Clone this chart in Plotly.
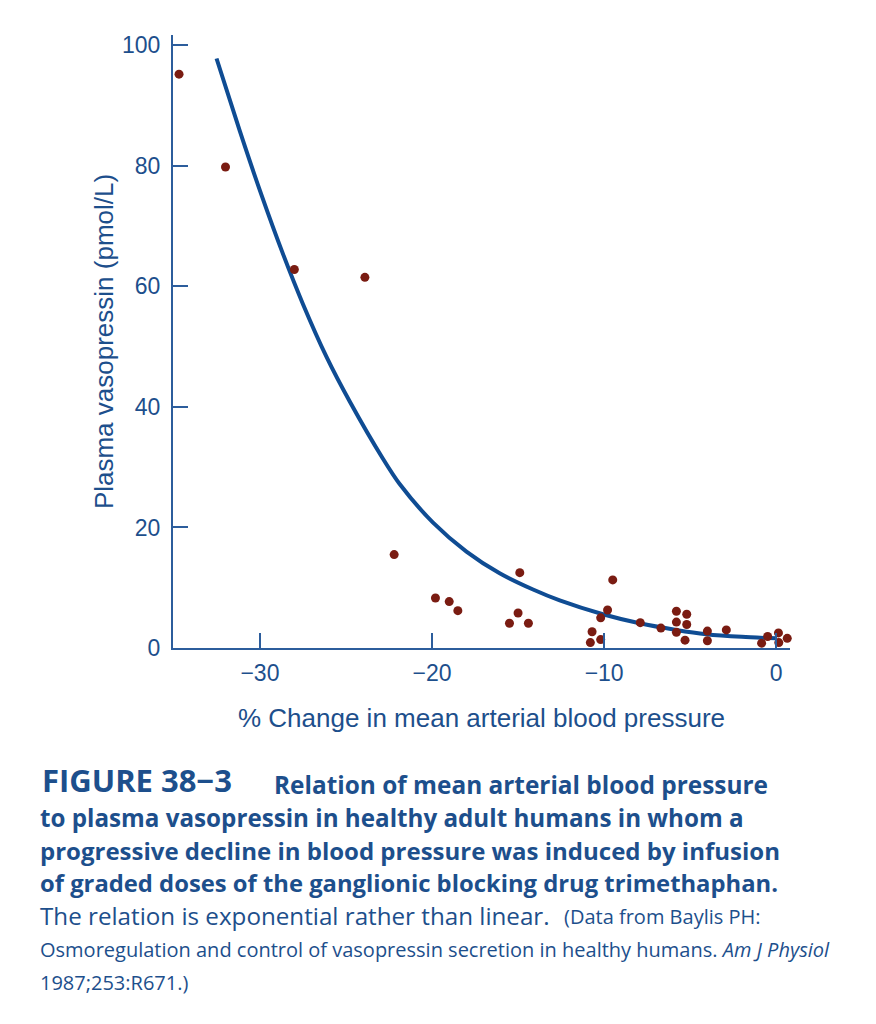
import plotly.graph_objects as go

# data
pts_x = [-34.7, -32.0, -28.0, -23.9, -22.2, -19.8, -19.0, -18.5, -14.9, -15.0, -15.5,
         -14.4, -10.7, -10.8, -10.2, -10.2, -9.8, -9.5, -7.9, -6.7, -5.8, -5.2, -5.8,
         -5.2, -5.8, -5.3, -4.0, -4.0, -2.9, -0.85, -0.5, 0.13, 0.15, 0.64]
pts_y = [95.2, 79.8, 62.8, 61.5, 15.5, 8.3, 7.7, 6.2, 12.5, 5.8, 4.1,
         4.1, 2.7, 0.9, 1.4, 5.0, 6.3, 11.3, 4.2, 3.3, 6.1, 5.6, 4.3,
         3.9, 2.6, 1.3, 2.8, 1.2, 3.0, 0.8, 1.9, 2.5, 0.9, 1.6]

# fitted curve
curve_x = [-32.52, -31.17, -29.89, -28.65, -27.49, -26.13, -24.78, -22.85, -21.88, -19.94,
           -18.0, -16.07, -14.13, -12.58, -10.07, -7.94, -5.81, -4.07, -2.0, 0.0]
curve_y = [97.8, 85.8, 75.0, 65.3, 57.0, 48.3, 40.9, 31.4, 27.2, 20.8,
           16.0, 12.4, 9.7, 7.9, 5.6, 4.1, 3.0, 2.3, 1.85, 1.6]

x_ticks = [-30, -20, -10, 0]
y_ticks = [0, 20, 40, 60, 80, 100]

BLUE = "#1d4f8c"
AXIS = "#2c5d9c"
CURVE = "#0f4c93"
DOT = "#7a1c12"

# page offset (body margin) and plot area in page pixels
OFF = 8
L, R, T, B = 173, 790, 35, 648
W, H = 876, 1024


def py(p):
    return (B - p) / (B - T)


def px(p):
    return (p - L) / (R - L)


fig = go.Figure()
fig.add_trace(go.Scatter(x=curve_x, y=curve_y, mode="lines",
                         line=dict(color=CURVE, width=4, shape="spline", smoothing=0.8),
                         cliponaxis=False, hoverinfo="skip"))
fig.add_trace(go.Scatter(x=pts_x, y=pts_y, mode="markers",
                         marker=dict(color=DOT, size=9),
                         cliponaxis=False))

tick_font = dict(family="Liberation Sans, Arial", size=23, color=BLUE)
title_font = dict(family="Liberation Sans, Arial", size=26, color=BLUE)

fig.update_layout(
    width=W, height=H,
    margin=dict(l=L - OFF, r=W - R + OFF, t=T - OFF, b=H - B + OFF),
    paper_bgcolor="white", plot_bgcolor="white",
    showlegend=False,
    xaxis=dict(range=[-35.05, 0.8], tickvals=x_ticks, ticks="inside", ticklen=15,
               tickwidth=2, tickcolor=AXIS, showline=True, linecolor=AXIS, linewidth=2,
               showgrid=False, zeroline=False, tickfont=tick_font, ticklabelstandoff=3,
               title=dict(text="% Change in mean arterial blood pressure",
                          font=title_font, standoff=24)),
    yaxis=dict(range=[0, 101.7], tickvals=y_ticks, ticks="inside", ticklen=15,
               tickwidth=2, tickcolor=AXIS, showline=True, linecolor=AXIS, linewidth=2,
               showgrid=False, zeroline=False, tickfont=tick_font, ticklabelstandoff=6,
               title=dict(text="Plasma vasopressin (pmol/L)", font=title_font, standoff=1)),
)

cap = "Open Sans"
lines = [
    (40, 780, "<b>FIGURE 38−3</b>", 31),
    (272, 784, "<b>Relation of mean arterial blood pressure</b>", 24.4),
    (38, 817, "<b>to plasma vasopressin in healthy adult humans in whom a</b>", 24.2),
    (38, 850, "<b>progressive decline in blood pressure was induced by infusion</b>", 24.0),
    (38, 883, "<b>of graded doses of the ganglionic blocking drug trimethaphan.</b>", 23.8),
    (38, 915, "The relation is exponential rather than linear.", 24.2),
    (562, 916, "(Data from Baylis PH:", 20),
    (38, 949, "Osmoregulation and control of vasopressin secretion in healthy humans. "
              "<i>Am J Physiol</i>", 20),
    (38, 982, "1987;253:R671.)", 20),
]
for x0, y0, txt, sz in lines:
    fig.add_annotation(text=txt, xref="paper", yref="paper", x=px(x0), y=py(y0),
                       xanchor="left", yanchor="middle", showarrow=False,
                       font=dict(family=cap, size=sz, color=BLUE))

fig.write_html("out.html")
